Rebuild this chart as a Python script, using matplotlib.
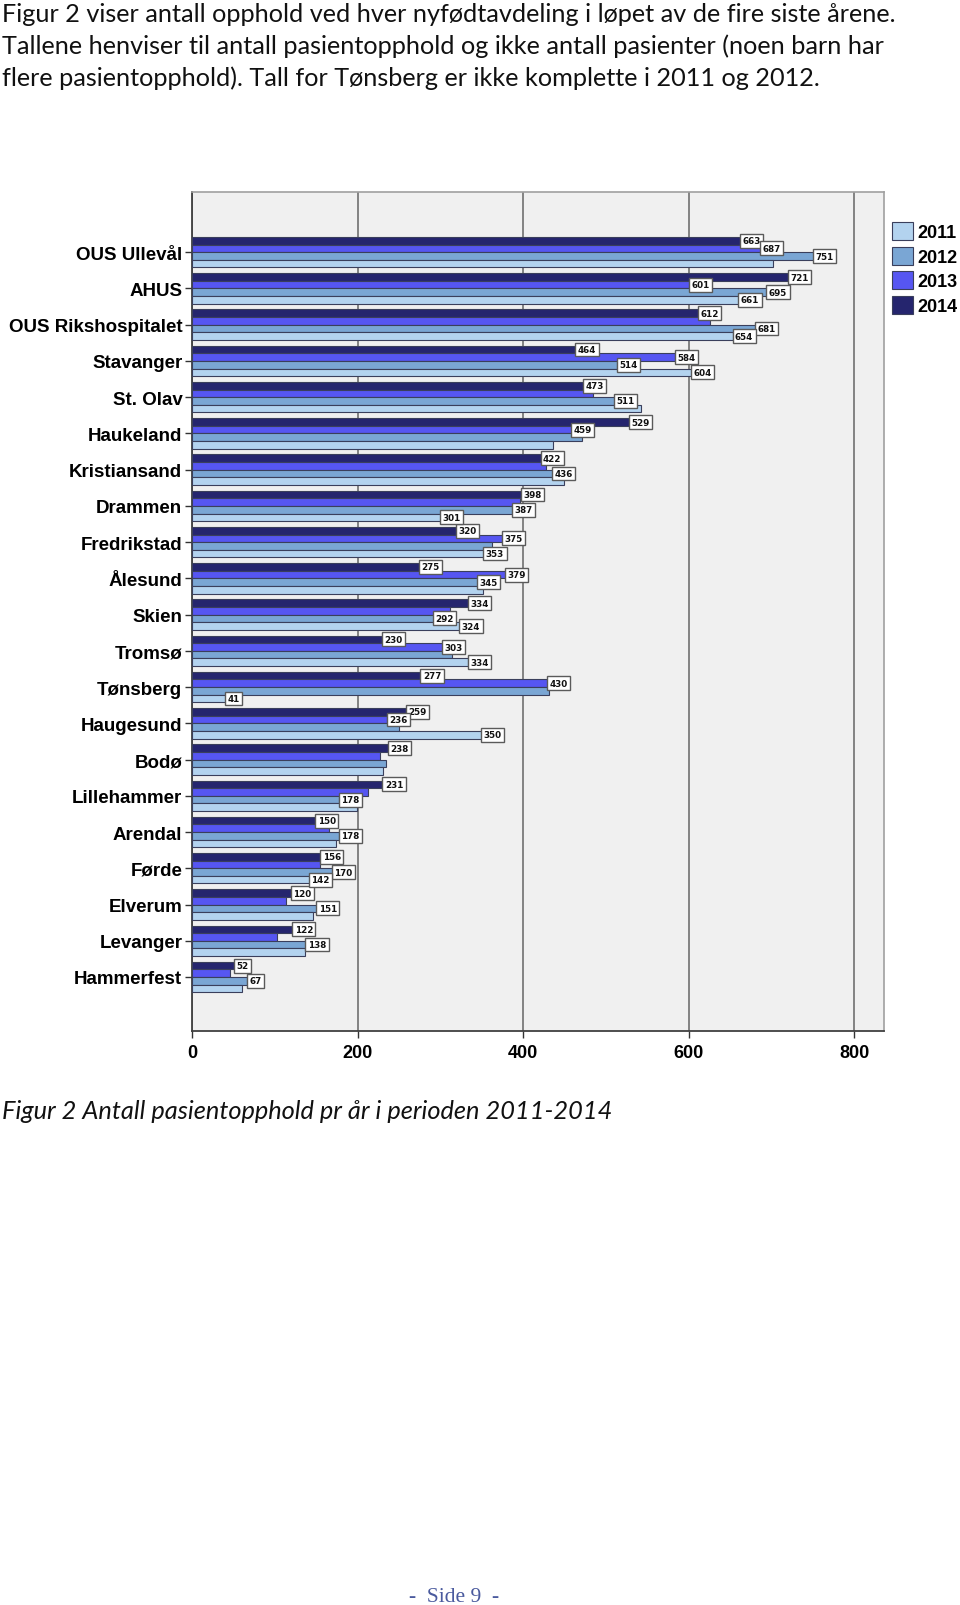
import matplotlib
matplotlib.use("Agg")
import matplotlib.pyplot as plt
import numpy as np

categories = ["OUS Ullevål", "AHUS", "OUS Rikshospitalet", "Stavanger", "St. Olav",
              "Haukeland", "Kristiansand", "Drammen", "Fredrikstad", "Ålesund",
              "Skien", "Tromsø", "Tønsberg", "Haugesund", "Bodø", "Lillehammer",
              "Arendal", "Førde", "Elverum", "Levanger", "Hammerfest"]

v2014 = [663, 721, 612, 464, 473, 529, 422, 398, 320, 275, 334, 230, 277, 259, 238, 231, 150, 156, 120, 122, 52]
v2013 = [687, 601, 626, 584, 484, 459, 428, 396, 375, 379, 312, 303, 430, 236, 227, 213, 166, 155, 114, 103, 46]
v2012 = [751, 695, 681, 514, 511, 471, 436, 387, 363, 345, 292, 314, 431, 250, 234, 178, 178, 170, 151, 138, 67]
v2011 = [702, 661, 654, 604, 542, 436, 449, 301, 353, 352, 324, 334, 41, 350, 231, 199, 174, 142, 146, 137, 61]

# which bars carry a value label (1 = shown)
lab2014 = [1] * 21
lab2013 = [1, 1, 0, 1, 0, 1, 0, 0, 1, 1, 0, 1, 1, 1, 0, 0, 0, 0, 0, 0, 0]
lab2012 = [1, 1, 1, 1, 1, 0, 1, 1, 0, 1, 1, 0, 0, 0, 0, 1, 1, 1, 1, 1, 1]
lab2011 = [0, 1, 1, 1, 0, 0, 0, 1, 1, 0, 1, 1, 1, 1, 0, 0, 0, 1, 0, 0, 0]

years = ["2011", "2012", "2013", "2014"]
xticks = [0, 200, 400, 600, 800]

title_lines = [
    "Figur 2 viser antall opphold ved hver nyfødtavdeling i løpet av de fire siste årene.",
    "Tallene henviser til antall pasientopphold og ikke antall pasienter (noen barn har",
    "flere pasientopphold). Tall for Tønsberg er ikke komplette i 2011 og 2012.",
]
caption = "Figur 2 Antall pasientopphold pr år i perioden 2011-2014"
footer = "-  Side 9  -"

colors = {"2011": "#B3D3EF", "2012": "#7AA6D4", "2013": "#5656F2", "2014": "#25256E"}
series = {"2014": (v2014, lab2014), "2013": (v2013, lab2013),
          "2012": (v2012, lab2012), "2011": (v2011, lab2011)}
offsets = {"2014": -0.315, "2013": -0.105, "2012": 0.105, "2011": 0.315}

fig = plt.figure(figsize=(9.6, 16.06), dpi=100)
ax = fig.add_axes([0.2, 0.3572, 0.7208, 0.5228])
ax.set_facecolor("#F0F0F0")

y = np.arange(len(categories))
handles = {}
for yr in ["2014", "2013", "2012", "2011"]:
    vals, labs = series[yr]
    b = ax.barh(y + offsets[yr], vals, height=0.21, color=colors[yr],
                edgecolor="#3A3F5C", linewidth=0.8, zorder=3, label=yr)
    handles[yr] = b
    for yi, v, l in zip(y, vals, labs):
        if l:
            ax.text(v + 2, yi + offsets[yr], str(v), ha="left", va="center",
                    fontsize=6.3, fontweight="bold", color="#111111", zorder=5,
                    bbox=dict(boxstyle="square,pad=0.28", fc="white",
                              ec="#5A5A5A", lw=1.0))

ax.set_xlim(0, 836)
ax.set_ylim(len(categories) - 1 + 1.5, -1.67)
ax.set_xticks(xticks)
ax.set_xticklabels([str(t) for t in xticks], fontsize=13, fontweight="bold",
                   family="Liberation Sans")
ax.set_yticks(y)
ax.set_yticklabels(categories, fontsize=13.5, fontweight="bold", family="Liberation Sans")
ax.tick_params(axis="both", length=5, width=1, color="#333333", pad=2)
ax.tick_params(axis="x", pad=4)
ax.xaxis.grid(True, color="#707070", linewidth=1.2, zorder=1)
ax.set_axisbelow(True)
for side in ["top", "right"]:
    ax.spines[side].set_color("#A0A0A0")
    ax.spines[side].set_linewidth(1.2)
for side in ["left", "bottom"]:
    ax.spines[side].set_color("#404040")
    ax.spines[side].set_linewidth(1.3)

leg = fig.legend([handles[yr] for yr in years], years, loc="upper left",
                 bbox_to_anchor=(0.929, 0.861), frameon=False,
                 prop=dict(family="Liberation Sans", weight="bold", size=13),
                 handlelength=1.15, handleheight=1.15, handletextpad=0.25,
                 labelspacing=0.3, borderaxespad=0, borderpad=0)

for i, line in enumerate(title_lines):
    fig.text(0.002, 1 - (15 + i * 31.5) / 1606, line, ha="left", va="center",
             fontsize=18.2, family="Lato", color="#111111")

fig.text(0.002, 1 - 1112 / 1606, caption, ha="left", va="center",
         fontsize=18.3, family="Lato", style="italic", color="#111111")

fig.text(454 / 960, 1 - 1598 / 1606, footer, ha="center", va="center",
         fontsize=15.5, family="Liberation Serif", color="#4A5A9E")

fig.savefig("out.png", dpi=100)
